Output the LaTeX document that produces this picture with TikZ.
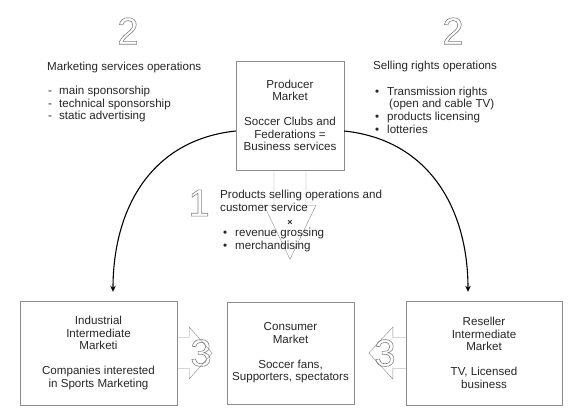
\documentclass[tikz,border=0pt]{standalone}
\usepackage{fontspec}
\setmainfont{Liberation Sans}
\usetikzlibrary{positioning, arrows.meta}

% hollow (outlined) digits
\newcommand{\hollow}[1]{\special{pdf:code q 1 Tr 0.6 w}#1\special{pdf:code Q}}

\tikzset{
  market/.style={draw=black!45, thin, align=center, text=black!85, inner sep=0pt,
    font=\fontsize{11.6}{12.5}\selectfont},
  blockarrow/.style={draw=black!45, thin},
  flow/.style={line width=1.1pt, -{Stealth[length=6pt,width=5.5pt]}},
  bignum/.style={text=black!50, inner sep=0pt, font=\fontsize{38}{38}\selectfont},
  plain/.style={align=left, text=black!85, inner sep=0pt, font=\fontsize{11.6}{12.6}\selectfont}
}

\begin{document}
\begin{tikzpicture}[x=1pt, y=-1pt]

\useasboundingbox (0,0) rectangle (580,418);  % page size

% Producer market (box with a down arrow)
\node[market, minimum width=108pt, minimum height=109pt] (producer) at (290,115.5) {Producer\\Market\\[12.5pt]Soccer Clubs and\\Federations =\\Business services};
\draw[blockarrow] ([xshift=-16pt]producer.south) -- ++(0,35) -- ++(-10,0) -- ++(26,54) -- ++(26,-54) -- ++(-10,0) -- ++(0,-35);  % down arrow

% Lower markets
\node[market, minimum width=157pt, minimum height=104pt] (industrial) at (98.5,353) {Industrial\\Intermediate\\Marketi\\[12.5pt]Companies interested\\in Sports Marketing};
\node[market, minimum width=127pt, minimum height=102pt] (consumer) at (290.5,353) {Consumer\\Market\\[12.5pt]Soccer fans,\\Supporters, spectators};
\node[market, minimum width=156pt, minimum height=104pt] (reseller) at (484,353) {Reseller\\Intermediate\\Market\\[12.5pt]TV, Licensed\\business};

% Block arrows towards the consumer market
\draw[blockarrow] ([yshift=15.5pt]industrial.east) -- ++(12,0) -- ++(0,-10.5) -- ++(23,26) -- ++(-23,26) -- ++(0,-10.5) -- ++(-12,0);
\draw[blockarrow] ([yshift=15.5pt]reseller.west) -- ++(-13,0) -- ++(0,-10.5) -- ++(-24,26) -- ++(24,26) -- ++(0,-10.5) -- ++(13,0);
\node[bignum] (three-l) at (201,353) {\hollow{3}};
\node[bignum] (three-r) at (385,353) {\hollow{3}};

% Curved arrows
\draw[flow] ([yshift=-15.5pt]producer.west) .. controls (150,140) and (113,210) .. ([xshift=14.5pt,yshift=9pt]industrial.north);
\draw[flow] ([yshift=-15.5pt]producer.east) .. controls (430,140) and (468,210) .. ([xshift=-16pt,yshift=9pt]reseller.north);

% Marketing services (left)
\node[bignum] (two-l) at (128,31) {\hollow{2}};
\node[plain, anchor=west] (mkttitle) at (47,67) {Marketing services operations};
\node[plain, anchor=west] (mktlist) at (48,104) {\makebox[11pt][l]{-}main sponsorship\\\makebox[11pt][l]{-}technical sponsorship\\\makebox[11pt][l]{-}static advertising};

% Selling rights (right)
\node[bignum] (two-r) at (453,31) {\hollow{2}};
\node[plain, anchor=west] (selltitle) at (373,66) {Selling rights operations};
\node[plain, anchor=west] (selllist) at (375,110) {\makebox[12pt][l]{•}Transmission rights\\\hspace*{14pt}(open and cable TV)\\\makebox[12pt][l]{•}products licensing\\\makebox[12pt][l]{•}lotteries};

% Products selling (middle)
\node[bignum] (one) at (199,203) {\hollow{1}};
\node[plain, anchor=west] (prodtitle) at (220,201) {Products selling operations and\\customer service};
\node[plain, font=\fontsize{9}{9}\selectfont\bfseries] (times) at (290,223) {×};
\node[plain, anchor=west] (prodlist) at (223,240) {\makebox[12pt][l]{•}revenue grossing\\\makebox[12pt][l]{•}merchandising};

\end{tikzpicture}
\end{document}
